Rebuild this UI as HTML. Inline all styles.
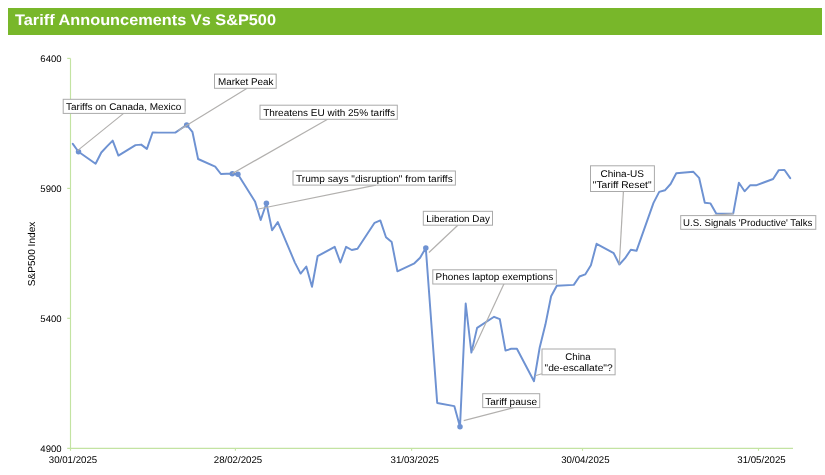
<!DOCTYPE html>
<html><head><meta charset="utf-8"><title>Tariff Announcements Vs S&amp;P500</title>
<style>
html,body{margin:0;padding:0;background:#fff;}
body{width:825px;height:475px;position:relative;overflow:hidden;font-family:"Liberation Sans",sans-serif;}
svg text{font-family:"Liberation Sans",sans-serif;text-rendering:geometricPrecision;}
svg{filter:grayscale(0);will-change:transform;}
#hdr{position:absolute;left:8.3px;top:7.8px;width:813.3px;height:27.4px;background:#78b72a;}
</style></head><body>
<div id="hdr"></div>
<svg width="825" height="475" viewBox="0 0 825 475" style="position:absolute;left:0;top:0">
<g stroke="#c3e3a2" stroke-width="1.15" fill="none">
<line x1="70.5" y1="58.4" x2="70.5" y2="450.8"/>
<line x1="67.2" y1="448.3" x2="793" y2="448.3"/>
<line x1="67.2" y1="58.4" x2="70.5" y2="58.4"/>
<line x1="67.2" y1="188.4" x2="70.5" y2="188.4"/>
<line x1="67.2" y1="318.3" x2="70.5" y2="318.3"/>
<line x1="235.4" y1="448.3" x2="235.4" y2="450.8"/>
<line x1="411.6" y1="448.3" x2="411.6" y2="450.8"/>
<line x1="582.5" y1="448.3" x2="582.5" y2="450.8"/>
<line x1="758.5" y1="448.3" x2="758.5" y2="450.8"/>
</g>
<polyline points="72.8,143.9 78.5,151.8 95.6,163.8 101.3,152.5 107.0,146.4 112.7,140.6 118.4,155.6 135.5,145.1 141.2,144.6 146.9,148.9 152.6,132.5 158.2,132.6 175.3,132.6 181.0,128.7 186.7,124.9 192.4,131.8 198.1,159.0 215.2,166.7 220.9,174.0 226.6,173.8 232.3,173.8 237.9,174.2 255.0,201.4 260.7,220.0 266.4,203.3 272.1,230.3 277.8,222.1 294.9,262.6 300.6,273.6 306.3,266.5 312.0,286.7 317.6,256.2 334.7,246.8 340.4,262.5 346.1,246.8 351.8,250.0 357.5,248.8 374.6,222.8 380.3,220.4 386.0,237.2 391.7,242.1 397.4,271.3 414.4,263.3 420.1,257.7 425.8,247.9 437.2,403.0 454.3,406.1 460.0,426.8 465.7,303.5 471.4,352.6 477.1,327.9 494.1,316.8 499.8,319.2 505.5,350.6 511.2,348.8 516.9,348.8 534.0,381.2 539.7,347.5 545.4,324.6 551.1,296.3 556.8,285.8 573.8,284.9 579.5,276.5 585.2,274.4 590.9,265.3 596.6,243.8 613.7,253.2 619.4,264.5 625.1,258.2 630.8,249.7 636.5,250.8 653.5,202.9 659.2,191.9 664.9,190.3 670.6,184.0 676.3,173.2 693.4,171.8 699.1,177.8 704.8,202.8 710.5,203.4 716.2,213.6 733.2,213.6 738.9,182.8 744.6,191.3 750.3,185.2 756.0,185.3 773.1,179.0 778.8,170.1 784.5,170.0 790.2,178.1" fill="none" stroke="#6e92d2" stroke-width="1.95" stroke-linejoin="round" stroke-linecap="round"/>
<circle cx="78.5" cy="151.8" r="2.75" fill="#6e92d2"/>
<circle cx="186.7" cy="124.9" r="2.75" fill="#6e92d2"/>
<circle cx="232.3" cy="173.8" r="2.75" fill="#6e92d2"/>
<circle cx="237.9" cy="174.2" r="2.75" fill="#6e92d2"/>
<circle cx="266.4" cy="203.3" r="2.75" fill="#6e92d2"/>
<circle cx="425.8" cy="247.9" r="2.75" fill="#6e92d2"/>
<circle cx="460.0" cy="426.8" r="2.75" fill="#6e92d2"/>
<g stroke="#b2b0ae" stroke-width="1.2" fill="none">
<line x1="123.6" y1="113.4" x2="77.5" y2="150.6"/>
<line x1="246.7" y1="88.4" x2="178.3" y2="130.6"/>
<line x1="327.6" y1="119.3" x2="232.4" y2="173.5"/>
<line x1="375.9" y1="185.2" x2="255.9" y2="209.5"/>
<line x1="457.8" y1="225.2" x2="428.9" y2="252.5"/>
<line x1="504.0" y1="283.8" x2="473.1" y2="350.4"/>
<line x1="513.7" y1="407.7" x2="463.7" y2="420.6"/>
<line x1="541.8" y1="373.8" x2="535.2" y2="375.8"/>
<line x1="623.4" y1="191.6" x2="619.3" y2="264.5"/>
<line x1="713.5" y1="215.4" x2="733.5" y2="213.6"/>
</g>
<rect x="63.2" y="99.3" width="121.9" height="14.1" fill="#fff" stroke="#aaaaaa" stroke-width="1"/>
<text x="123.7" y="110.0" text-anchor="middle" font-size="9.8" textLength="115.4" lengthAdjust="spacingAndGlyphs" fill="#000">Tariffs on Canada, Mexico</text>
<rect x="214.5" y="74.1" width="61.7" height="14.2" fill="#fff" stroke="#aaaaaa" stroke-width="1"/>
<text x="245.7" y="84.9" text-anchor="middle" font-size="9.8" textLength="55.5" lengthAdjust="spacingAndGlyphs" fill="#000">Market Peak</text>
<rect x="260.0" y="105.2" width="137.3" height="14.1" fill="#fff" stroke="#aaaaaa" stroke-width="1"/>
<text x="329.1" y="115.8" text-anchor="middle" font-size="9.8" textLength="131.9" lengthAdjust="spacingAndGlyphs" fill="#000">Threatens EU with 25% tariffs</text>
<rect x="293.0" y="171.0" width="162.4" height="14.1" fill="#fff" stroke="#aaaaaa" stroke-width="1"/>
<text x="374.4" y="181.7" text-anchor="middle" font-size="9.8" textLength="156.7" lengthAdjust="spacingAndGlyphs" fill="#000">Trump says &quot;disruption&quot; from tariffs</text>
<rect x="423.3" y="211.3" width="69.2" height="13.9" fill="#fff" stroke="#aaaaaa" stroke-width="1"/>
<text x="458.1" y="222.0" text-anchor="middle" font-size="9.8" textLength="63.5" lengthAdjust="spacingAndGlyphs" fill="#000">Liberation Day</text>
<rect x="432.8" y="269.8" width="123.6" height="14.2" fill="#fff" stroke="#aaaaaa" stroke-width="1"/>
<text x="494.4" y="280.4" text-anchor="middle" font-size="9.8" textLength="117.8" lengthAdjust="spacingAndGlyphs" fill="#000">Phones laptop exemptions</text>
<rect x="482.7" y="393.7" width="57.0" height="13.9" fill="#fff" stroke="#aaaaaa" stroke-width="1"/>
<text x="511.1" y="404.7" text-anchor="middle" font-size="9.8" textLength="51.9" lengthAdjust="spacingAndGlyphs" fill="#000">Tariff pause</text>
<rect x="542.0" y="349.0" width="73.1" height="25.8" fill="#fff" stroke="#aaaaaa" stroke-width="1"/>
<text x="578.0" y="359.9" text-anchor="middle" font-size="9.8" textLength="25.3" lengthAdjust="spacingAndGlyphs" fill="#000">China</text>
<text x="578.6" y="371.0" text-anchor="middle" font-size="9.8" textLength="68.2" lengthAdjust="spacingAndGlyphs" fill="#000">&quot;de-escallate&quot;?</text>
<rect x="590.5" y="165.8" width="63.9" height="25.7" fill="#fff" stroke="#aaaaaa" stroke-width="1"/>
<text x="622.2" y="176.7" text-anchor="middle" font-size="9.8" textLength="43.5" lengthAdjust="spacingAndGlyphs" fill="#000">China-US</text>
<text x="622.2" y="187.9" text-anchor="middle" font-size="9.8" textLength="58.7" lengthAdjust="spacingAndGlyphs" fill="#000">&quot;Tariff Reset&quot;</text>
<rect x="680.7" y="215.6" width="135.1" height="13.7" fill="#fff" stroke="#aaaaaa" stroke-width="1"/>
<text x="747.7" y="225.9" text-anchor="middle" font-size="9.8" textLength="129.2" lengthAdjust="spacingAndGlyphs" fill="#000">U.S. Signals 'Productive' Talks</text>
<text x="51.0" y="61.9" text-anchor="middle" font-size="9.6" textLength="21.3" lengthAdjust="spacingAndGlyphs" fill="#000">6400</text>
<text x="51.0" y="191.8" text-anchor="middle" font-size="9.6" textLength="21.3" lengthAdjust="spacingAndGlyphs" fill="#000">5900</text>
<text x="51.0" y="321.8" text-anchor="middle" font-size="9.6" textLength="21.3" lengthAdjust="spacingAndGlyphs" fill="#000">5400</text>
<text x="51.0" y="451.7" text-anchor="middle" font-size="9.6" textLength="21.3" lengthAdjust="spacingAndGlyphs" fill="#000">4900</text>
<text x="73.0" y="463.0" text-anchor="middle" font-size="9.7" textLength="48.4" lengthAdjust="spacingAndGlyphs" fill="#000">30/01/2025</text>
<text x="238.0" y="463.0" text-anchor="middle" font-size="9.7" textLength="48.4" lengthAdjust="spacingAndGlyphs" fill="#000">28/02/2025</text>
<text x="414.7" y="463.0" text-anchor="middle" font-size="9.7" textLength="48.4" lengthAdjust="spacingAndGlyphs" fill="#000">31/03/2025</text>
<text x="585.4" y="463.0" text-anchor="middle" font-size="9.7" textLength="48.4" lengthAdjust="spacingAndGlyphs" fill="#000">30/04/2025</text>
<text x="761.5" y="463.0" text-anchor="middle" font-size="9.7" textLength="48.4" lengthAdjust="spacingAndGlyphs" fill="#000">31/05/2025</text>
<text transform="translate(35.2,254.0) rotate(-90)" text-anchor="middle" font-size="10" textLength="64.6" lengthAdjust="spacingAndGlyphs" fill="#000">S&amp;P500 Index</text>
<text x="15.0" y="25.0" font-size="15.3" font-weight="bold" fill="#fff" textLength="261" lengthAdjust="spacingAndGlyphs">Tariff Announcements Vs S&amp;P500</text>
</svg>
</body></html>
